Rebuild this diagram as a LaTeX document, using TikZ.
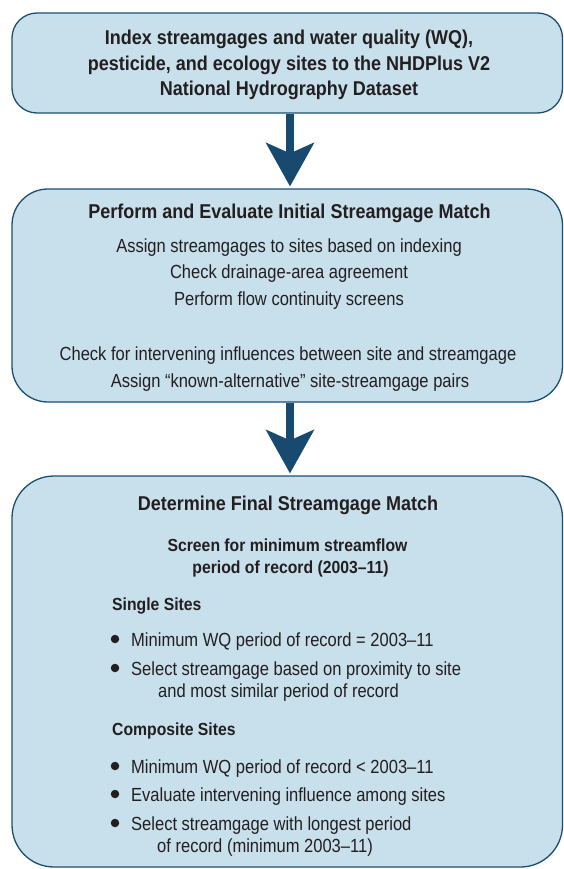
\documentclass[tikz,border=0pt]{standalone}
\usepackage{fontspec}
\setmainfont{Liberation Sans}[FakeStretch=0.87, BoldFeatures={FakeStretch=0.9}]
\usetikzlibrary{arrows.meta}
\definecolor{boxfill}{HTML}{C8DFEC}
\definecolor{boxline}{HTML}{1B4F72}
\definecolor{arrowc}{HTML}{174A6E}
\definecolor{textc}{HTML}{231F20}
\begin{document}
\begin{tikzpicture}[x=1pt,y=-1pt,
  box/.style={draw=boxline, fill=boxfill, line width=1.3pt, inner sep=0pt},
  flow/.style={line width=8pt, draw=arrowc, shorten >=2pt,
    -{Stealth[length=44pt,width=49pt,inset=11pt,line width=0pt]}},
  txt/.style={anchor=base, inner sep=0pt, text=textc, font=\fontsize{19}{22}\selectfont},
  hd/.style={txt, font=\fontsize{20}{24}\selectfont\bfseries},
  sub/.style={txt, font=\fontsize{17.5}{21}\selectfont\bfseries},
  lft/.style={anchor=base west},
  dot/.style={circle, fill=textc, inner sep=0pt, minimum size=8.5pt}]
\useasboundingbox (0,0) rectangle (564,869);
% boxes
\node[box, rounded corners=25pt, minimum width=550.5pt, minimum height=100pt] (b1) at (287.25,63) {};
\node[box, rounded corners=36pt, minimum width=550.5pt, minimum height=213pt] (b2) at (287.25,295.5) {};
\node[box, rounded corners=42pt, minimum width=550.5pt, minimum height=391pt] (b3) at (287.25,671.5) {};
% arrows
\draw[flow] ([xshift=2.75pt]b1.south) -- ([xshift=2.75pt]b2.north);
\draw[flow] ([xshift=2.75pt]b2.south) -- ([xshift=2.75pt]b3.north);
% box 1 text
\node[hd] (t1a) at (289,45) {Index streamgages and water quality (WQ),};
\node[hd] (t1b) at (289,70.5) {pesticide, and ecology sites to the NHDPlus V2};
\node[hd] (t1c) at (289,96) {National Hydrography Dataset};
% box 2 text
\node[hd] (t2) at (289.5,218) {Perform and Evaluate Initial Streamgage Match};
\node[txt] (l2a) at (289,252) {Assign streamgages to sites based on indexing};
\node[txt] (l2b) at (289,278) {Check drainage-area agreement};
\node[txt] (l2c) at (289,305) {Perform flow continuity screens};
\node[txt] (l2d) at (288,360) {Check for intervening influences between site and streamgage};
\node[txt] (l2e) at (290,387) {Assign “known-alternative” site-streamgage pairs};
% box 3 text
\node[hd] (t3) at (288,510) {Determine Final Streamgage Match};
\node[sub] (s3a) at (287.5,551) {Screen for minimum streamflow};
\node[sub] (s3b) at (290.5,573) {period of record (2003–11)};
\node[sub, lft] (ss) at (112,610) {Single Sites};
\node[dot] (d1) at (115,639) {};
\node[txt, lft] (b1t) at (131,646) {Minimum WQ period of record = 2003–11};
\node[dot] (d2) at (115,668) {};
\node[txt, lft] (b2t) at (131,675) {Select streamgage based on proximity to site};
\node[txt, lft] (b2u) at (158,697) {and most similar period of record};
\node[sub, lft] (cs) at (112,735) {Composite Sites};
\node[dot] (d3) at (115,766) {};
\node[txt, lft] (b3t) at (131,773) {Minimum WQ period of record < 2003–11};
\node[dot] (d4) at (115,794) {};
\node[txt, lft] (b4t) at (131,801) {Evaluate intervening influence among sites};
\node[dot] (d5) at (115,823) {};
\node[txt, lft] (b5t) at (131,830) {Select streamgage with longest period};
\node[txt, lft] (b5u) at (157,852) {of record (minimum 2003–11)};
\end{tikzpicture}
\end{document}
